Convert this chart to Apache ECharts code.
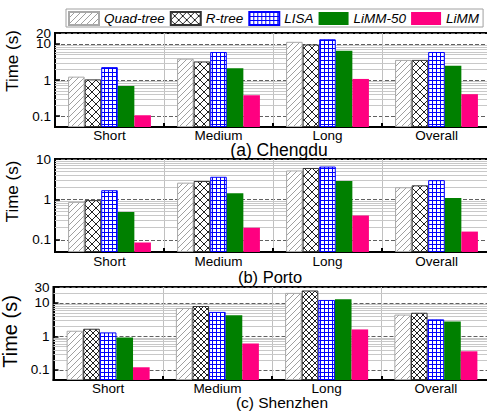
<!DOCTYPE html>
<html>
<head>
<meta charset="utf-8">
<script src="https://cdn.jsdelivr.net/npm/echarts@6/dist/echarts.min.js"></script>
<style>
html,body{margin:0;padding:0;background:#fff;}
#chart{width:487px;height:412px;}
</style>
</head>
<body>
<div id="chart"></div>
<script>
// ---- data ----
var categories = ['Short', 'Medium', 'Long', 'Overall'];
var seriesNames = ['Quad-tree', 'R-tree', 'LISA', 'LiMM-50', 'LiMM'];

var chengduQuad   = [1.24, 3.9, 11.4, 3.6];
var chengduRtree  = [1.04, 3.26, 9.6, 3.6];
var chengduLisa   = [2.27, 5.96, 13.4, 5.96];
var chengduLimm50 = [0.68, 2.12, 6.5, 2.47];
var chengduLimm   = [0.105, 0.38, 1.07, 0.405];

var portoQuad   = [0.87, 2.6, 5.2, 2.0];
var portoRtree  = [0.96, 2.85, 6.0, 2.23];
var portoLisa   = [1.69, 3.63, 6.5, 3.0];
var portoLimm50 = [0.49, 1.42, 2.84, 1.08];
var portoLimm   = [0.086, 0.2, 0.4, 0.16];

var shenzhenQuad   = [1.48, 7.1, 20, 4.5];
var shenzhenRtree  = [1.7, 8.1, 23.6, 5.1];
var shenzhenLisa   = [1.32, 5.4, 12.3, 3.24];
var shenzhenLimm50 = [0.93, 4.27, 12.9, 2.82];
var shenzhenLimm   = [0.12, 0.62, 1.62, 0.36];

var panelTitles = ['(a) Chengdu', '(b) Porto', '(c) Shenzhen'];
var yMins = [0.05, 0.05, 0.05];
var yMaxs = [20, 10, 30];
var yTickLabels = [[0.1, 1, 10, 20], [0.1, 1, 10], [0.1, 1, 10, 30]];
var minorTicks = [0.2, 0.3, 0.4, 0.5, 0.6, 0.7, 0.8, 0.9, 2, 3, 4, 5, 6, 7, 8, 9, 20, 30];

// ---- patterns ----
function makePattern(kind, size, color) {
  var c = document.createElement('canvas');
  c.width = size; c.height = size;
  var g = c.getContext('2d');
  g.fillStyle = '#fff';
  g.fillRect(0, 0, size, size);
  g.strokeStyle = color;
  g.lineWidth = 1;
  g.beginPath();
  if (kind === 'diag') {
    g.moveTo(-1, size + 1); g.lineTo(size + 1, -1);
    g.moveTo(-1, 1); g.lineTo(1, -1);
    g.moveTo(size - 1, size + 1); g.lineTo(size + 1, size - 1);
  } else if (kind === 'cross') {
    g.moveTo(-1, -1); g.lineTo(size + 1, size + 1);
    g.moveTo(-1, size + 1); g.lineTo(size + 1, -1);
  } else if (kind === 'grid') {
    g.moveTo(0, 0.5); g.lineTo(size, 0.5);
    g.moveTo(0.5, 0); g.lineTo(0.5, size);
  }
  g.stroke();
  return { image: c, repeat: 'repeat' };
}

var patQuad = makePattern('diag', 6, '#a0a0a0');
var patR = makePattern('cross', 8, '#222');
var patRdense = makePattern('cross', 6, '#222');
var patLisa = makePattern('grid', 4, '#0000ff');

function styles(panel) {
  return [
    { color: patQuad, borderColor: '#a8a8a8', borderWidth: 1 },
    { color: panel === 2 ? patRdense : patR, borderColor: '#333', borderWidth: 1 },
    { color: patLisa, borderColor: '#0000ff', borderWidth: 1 },
    { color: '#008000' },
    { color: '#ff0080' }
  ];
}

var panelData = [
  [chengduQuad, chengduRtree, chengduLisa, chengduLimm50, chengduLimm],
  [portoQuad, portoRtree, portoLisa, portoLimm50, portoLimm],
  [shenzhenQuad, shenzhenRtree, shenzhenLisa, shenzhenLimm50, shenzhenLimm]
];

var gridsLayout = [
  { left: 55, top: 33, width: 436, height: 94 },
  { left: 55, top: 159, width: 436, height: 93 },
  { left: 53.5, top: 287, width: 437, height: 93 }
];
var nameFont = [17, 17, 20];
var nameGaps = [28, 27, 18];
var nameShift = [19, 14, 2];
var titleFont = [17.5, 16.5, 15.5];
var titleX = [279, 270, 282];
var titleY = [142, 269, 395];
var labelMargin = [2, 3, 2];
var labelFont = 'Liberation Sans, Arial, sans-serif';

function fmt(v) { return String(+(+v).toPrecision(3)); }

var grids = [], xAxes = [], yAxes = [], series = [], titles = [];
for (var p = 0; p < 3; p++) {
  var gl = gridsLayout[p];
  grids.push({
    left: gl.left, top: gl.top, width: gl.width, height: gl.height,
    show: true, borderColor: '#000', borderWidth: 2, backgroundColor: 'transparent',
    containLabel: false, outerBoundsMode: 'none'
  });
  xAxes.push({
    type: 'category', gridIndex: p, data: categories, boundaryGap: true,
    axisLine: { show: true, lineStyle: { color: '#000', width: 2 } },
    axisTick: { show: true, inside: true, length: 4, interval: 0, lineStyle: { color: '#000', width: 2 } },
    axisLabel: { show: true, interval: 0, fontSize: 13.5, lineHeight: 12, color: '#000', margin: labelMargin[p], fontFamily: labelFont },
    splitLine: { show: true, interval: 0, lineStyle: { color: '#c0c0c0', width: 1 } }
  });
  var labelsMain = yTickLabels[p].filter(function (v, i) { return i < 3; });
  var labelsTop = yTickLabels[p].filter(function (v, i) { return i >= 3; });
  // main axis: 0.1, 1, 10
  yAxes.push({
    type: 'log', logBase: 10, gridIndex: p, min: yMins[p], max: yMaxs[p], startValue: yMins[p], splitNumber: 3,
    name: 'Time (s)', nameLocation: 'middle', nameGap: nameGaps[p],
    nameTextStyle: { fontSize: nameFont[p], color: '#000', fontFamily: labelFont, padding: [0, 0, 0, nameShift[p] * 2] },
    axisLine: { show: true, lineStyle: { color: '#000', width: 2 } },
    axisTick: { show: true, inside: true, length: 5, lineStyle: { color: '#000', width: 1.5 } },
    axisLabel: { show: true, customValues: labelsMain, showMinLabel: true, showMaxLabel: true, fontSize: 13.5, lineHeight: 11, color: '#000', margin: 4, fontFamily: labelFont, formatter: fmt },
    splitLine: { show: true, lineStyle: { color: '#606060', width: 1, type: [4, 2] } }
  });
  // helper axis carrying only the top label (20 / 30)
  yAxes.push({
    type: 'log', logBase: 10, gridIndex: p, min: yMins[p], max: yMaxs[p], position: 'left', offset: 0,
    axisLine: { show: false }, axisTick: { show: false }, splitLine: { show: false },
    axisLabel: { show: labelsTop.length > 0, customValues: labelsTop.length ? labelsTop : [yMaxs[p]], fontSize: 13.5, lineHeight: 11,
      color: '#000', margin: 4, fontFamily: labelFont, formatter: fmt }
  });
  var yi = p * 2;
  // minor grid lines behind the bars
  var mk = [];
  for (var k = 0; k < minorTicks.length; k++) {
    if (minorTicks[k] > yMins[p] && minorTicks[k] < yMaxs[p]) mk.push({ yAxis: minorTicks[k] });
  }
  series.push({
    type: 'line', name: 'minor-' + p, xAxisIndex: p, yAxisIndex: yi, z: 1, silent: true,
    data: ['-', '-', '-', '-'], showSymbol: false,
    markLine: { silent: true, z: 1, symbol: ['none', 'none'], label: { show: false },
      lineStyle: { color: '#c8c8c8', width: 1, type: 'solid' }, animation: false, data: mk }
  });
  var st = styles(p);
  for (var s = 0; s < 5; s++) {
    series.push({
      type: 'bar', name: seriesNames[s], xAxisIndex: p, yAxisIndex: yi, z: 3,
      data: panelData[p][s], barGap: '0%', barCategoryGap: '24%',
      itemStyle: st[s], emphasis: { disabled: true }
    });
  }
  titles.push({
    text: panelTitles[p], left: titleX[p], top: titleY[p], textAlign: 'center', padding: 0,
    textStyle: { fontSize: titleFont[p], lineHeight: titleFont[p] - 1.5, fontWeight: 'normal', color: '#000', fontFamily: labelFont }
  });
}

var chart = echarts.init(document.getElementById('chart'), null, { renderer: 'svg' });
chart.setOption({
  animation: false,
  backgroundColor: '#fff',
  title: titles,
  legend: {
    data: seriesNames, left: 66, top: 9, orient: 'horizontal',
    icon: 'rect', itemWidth: 30, itemHeight: 13, itemGap: 5,
    padding: [2, 4, 1, 2], borderColor: '#a0a0a0', borderWidth: 1,
    selectedMode: false,
    textStyle: { fontSize: 13.5, fontStyle: 'italic', color: '#000', fontFamily: labelFont, padding: [0, 0, 0, 0] }
  },
  grid: grids,
  xAxis: xAxes,
  yAxis: yAxes,
  series: series
});
</script>
</body>
</html>
